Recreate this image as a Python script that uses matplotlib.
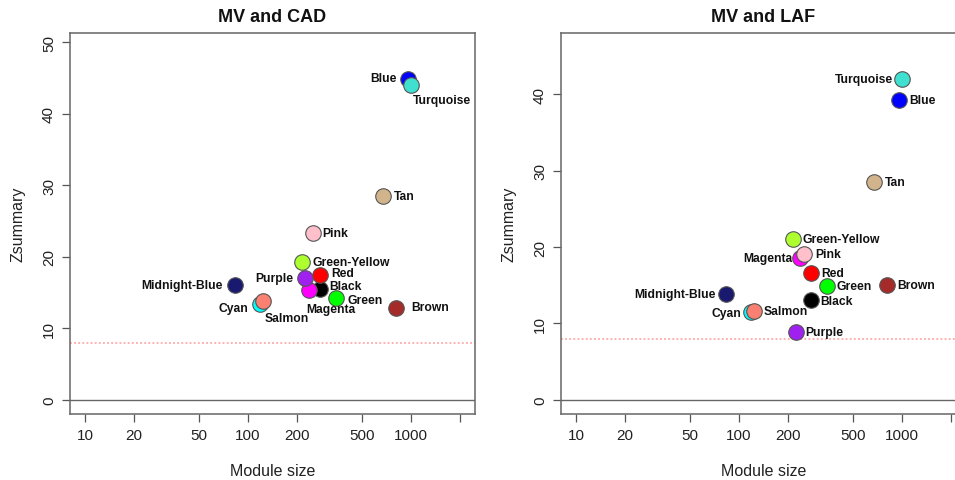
import matplotlib
matplotlib.use('Agg')
import matplotlib.pyplot as plt

plt.rcParams['font.family'] = ['Liberation Sans', 'DejaVu Sans']

# module names and their plotting colours
MODULES = ['Black', 'Blue', 'Brown', 'Cyan', 'Green', 'Green-Yellow', 'Magenta',
           'Midnight-Blue', 'Pink', 'Purple', 'Red', 'Salmon', 'Tan', 'Turquoise']
COLORS = ['#000000', '#0000FF', '#A52A2A', '#00FFFF', '#00FF00', '#ADFF2F', '#FF00FF',
          '#191970', '#FFC0CB', '#A020F0', '#FF0000', '#FA8072', '#D2B48C', '#40E0D0']

# module sizes (same modules in both comparisons)
SIZE = [276, 960, 814, 118, 347, 214, 237, 83, 250, 223, 277, 124, 678, 1000]

# preservation Zsummary per comparison
Z_CAD = [15.5, 44.8, 12.8, 13.4, 14.3, 19.3, 15.4, 16.0, 23.3, 17.0, 17.4, 13.8, 28.5, 44.0]
Z_LAF = [13.1, 39.2, 15.0, 11.5, 14.9, 21.0, 18.6, 13.9, 19.1, 8.9, 16.6, 11.6, 28.5, 42.0]

THRESHOLD = 8
XTICKS = [10, 20, 50, 100, 200, 500, 1000, 2000]
XTICK_LABELS = ['10', '20', '50', '100', '200', '500', '1000', '']

# label placement (pixel offsets, ha)
LAB_CAD = {
    'Black': (9, -3, 'left'), 'Blue': (-11, -1, 'right'), 'Brown': (15, -1, 'left'),
    'Cyan': (-11, 4, 'right'), 'Green': (11, 2, 'left'), 'Green-Yellow': (11, 0, 'left'),
    'Magenta': (-3, 19, 'left'), 'Midnight-Blue': (-12, 0, 'right'), 'Pink': (9, 0, 'left'),
    'Purple': (-11, 0, 'right'), 'Red': (11, -2, 'left'), 'Salmon': (1, 17, 'left'),
    'Tan': (10, 0, 'left'), 'Turquoise': (2, 15, 'left'),
}
LAB_LAF = {
    'Black': (9, 1, 'left'), 'Blue': (10, 0, 'left'), 'Brown': (10, 0, 'left'),
    'Cyan': (-9, 1, 'right'), 'Green': (9, 0, 'left'), 'Green-Yellow': (10, 0, 'left'),
    'Magenta': (-8, 0, 'right'), 'Midnight-Blue': (-10, 0, 'right'), 'Pink': (11, 0, 'left'),
    'Purple': (10, 0, 'left'), 'Red': (10, 0, 'left'), 'Salmon': (9, 0, 'left'),
    'Tan': (10, 0, 'left'), 'Turquoise': (-9, 0, 'right'),
}

W, H = 955, 481
fig = plt.figure(figsize=(W / 100, H / 100), dpi=100)
fig.patch.set_facecolor('white')

XLIM = (10 ** 0.908, 10 ** 3.393)
AX_W = 405 / W
AX_H = 381 / H
AX_B = (H - 415) / H


def panel(left_px, title, z, ylim, yticks, labels):
    ax = fig.add_axes([left_px / W, AX_B, AX_W, AX_H])
    ax.set_xscale('log')
    ax.set_xlim(*XLIM)
    ax.set_ylim(*ylim)
    ax.axhline(0, color='#666666', lw=1, zorder=1)
    ax.axhline(THRESHOLD, color='#ff9a9a', lw=1.1, ls=(0, (1.2, 1.5)), zorder=1)
    for name, col, x, y in zip(MODULES, COLORS, SIZE, z):
        ax.scatter(x, y, s=125, c=col, edgecolors='#555555', linewidths=0.8, zorder=3)
        dx, dy, ha = labels[name]
        ax.annotate(name, (x, y), xytext=(dx * 0.72, -dy * 0.72),
                    textcoords='offset points', ha=ha, va='center',
                    fontsize=8.7, fontweight='bold', color='#111111', zorder=4)
    ax.set_xticks(XTICKS)
    ax.set_xticklabels(XTICK_LABELS)
    ax.xaxis.set_minor_locator(matplotlib.ticker.NullLocator())
    ax.set_yticks(yticks)
    ax.set_yticklabels([str(t) for t in yticks], rotation=90, va='center')
    ax.tick_params(direction='out', length=6, width=0.9, color='#555555',
                   labelsize=11, labelcolor='#222222', pad=4)
    for sp in ax.spines.values():
        sp.set_color('#666666')
        sp.set_linewidth(1.1)
    ax.set_title(title, fontsize=13, fontweight='bold', pad=9, color='#111111')
    ax.set_xlabel('Module size', fontsize=11.5, labelpad=15, color='#222222')
    ax.set_ylabel('Zsummary', fontsize=11.5, labelpad=12, color='#222222')
    return ax


panel(70, 'MV and CAD', Z_CAD, (-1.97, 51.3), [0, 10, 20, 30, 40, 50], LAB_CAD)
panel(561, 'MV and LAF', Z_LAF, (-1.84, 48.0), [0, 10, 20, 30, 40], LAB_LAF)

fig.savefig('out.png', dpi=100, facecolor='white')
